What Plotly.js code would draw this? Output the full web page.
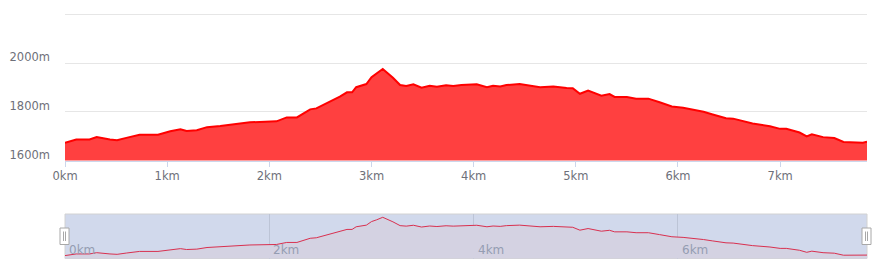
<!DOCTYPE html>
<html>
<head>
<meta charset="utf-8">
<script src="https://cdn.plot.ly/plotly-3.0.1.min.js"></script>
<style>html,body{margin:0;padding:0;background:#fff;}#chart{width:878px;height:266px;}</style>
</head>
<body>
<div id="chart"></div>
<script>
// distance along route (km)
const distanceKm = [0.00,0.11,0.24,0.31,0.44,0.51,0.60,0.73,0.91,1.03,1.13,1.19,1.29,1.39,1.52,1.65,1.81,2.07,2.17,2.27,2.40,2.46,2.59,2.69,2.76,2.81,2.85,2.95,3.00,3.05,3.11,3.21,3.28,3.34,3.41,3.49,3.57,3.64,3.73,3.80,3.88,4.03,4.13,4.19,4.26,4.32,4.45,4.65,4.78,4.91,4.97,5.04,5.12,5.25,5.33,5.38,5.50,5.59,5.71,5.82,5.94,6.05,6.15,6.25,6.34,6.47,6.54,6.64,6.73,6.90,7.00,7.06,7.19,7.26,7.31,7.42,7.53,7.62,7.81,7.85];
// elevation (m)
const elevationM = [1673,1686,1686,1696,1686,1683,1693,1706,1706,1720,1728,1721,1724,1737,1742,1749,1757,1761,1777,1777,1810,1814,1841,1862,1880,1880,1901,1914,1942,1956,1976,1940,1910,1906,1913,1899,1907,1903,1909,1906,1910,1913,1901,1907,1904,1910,1914,1901,1904,1898,1897,1874,1887,1866,1873,1861,1861,1854,1854,1839,1822,1817,1810,1800,1789,1774,1772,1760,1752,1741,1730,1730,1715,1699,1708,1696,1692,1676,1673,1677];
const yTickVals = [1600,1800,2000,2200];
const yTickText = ['1600m','1800m','2000m',''];
const xTickVals = [0,1,2,3,4,5,6,7];
const xTickText = ['0km','1km','2km','3km','4km','5km','6km','7km'];
const sliderTickVals = [0,2,4,6];
const sliderTickText = ['0km','2km','4km','6km'];

const H = 266;
const py = p => 1 - p / H;
const FONT = 'DejaVu Sans, sans-serif';

const traces = [
  {x: distanceKm, y: elevationM, type: 'scatter', mode: 'lines', xaxis: 'x', yaxis: 'y',
   line: {color: '#ff0000', width: 2, shape: 'linear'}, fill: 'tozeroy', fillcolor: 'rgba(255,64,64,1)', hoverinfo: 'x+y'},
  {x: distanceKm, y: elevationM, type: 'scatter', mode: 'lines', xaxis: 'x2', yaxis: 'y2',
   line: {color: '#d8304f', width: 1}, fill: 'tozeroy', fillcolor: 'rgba(212,210,226,1)', hoverinfo: 'skip'}
];

const sliderLabels = sliderTickVals.map((v, i) => ({
  x: v, xref: 'x2', y: 0, yref: 'y2 domain', text: sliderTickText[i], showarrow: false,
  xanchor: 'left', yanchor: 'middle', xshift: 2, yshift: 9,
  font: {family: FONT, size: 12, color: '#959db2'}
}));

const layout = {
  width: 878, height: 266,
  margin: {l: 65, r: 11, t: 0, b: 0},
  paper_bgcolor: '#ffffff', plot_bgcolor: 'rgba(0,0,0,0)',
  showlegend: false,
  font: {family: FONT, size: 11.5, color: '#6e7079'},
  xaxis: {
    domain: [0, 1], anchor: 'y', range: [0, 7.85], fixedrange: true,
    tickvals: xTickVals, ticktext: xTickText,
    showgrid: false, zeroline: false,
    showline: true, linecolor: '#ccd6eb', linewidth: 1,
    ticks: 'outside', ticklen: 5, tickcolor: '#ccd6eb', tickwidth: 1,
    tickfont: {family: FONT, size: 11.5, color: '#6e7079'}
  },
  yaxis: {
    domain: [py(160.5), py(12)], anchor: 'x', range: [1600, 2210], fixedrange: true,
    tickvals: yTickVals, ticktext: yTickText,
    showgrid: true, gridcolor: '#e6e6e6', gridwidth: 1, zeroline: false,
    showline: false, ticks: '', ticklabelstandoff: 14, ticklabelshift: -6,
    tickfont: {family: FONT, size: 11.5, color: '#6e7079'}
  },
  xaxis2: {
    domain: [0, 1], anchor: 'y2', range: [0, 7.85], fixedrange: true,
    tickvals: sliderTickVals,
    showgrid: true, gridcolor: '#bcc4d6', gridwidth: 1, zeroline: false,
    showline: false, ticks: '', showticklabels: false
  },
  yaxis2: {
    domain: [py(258.5), py(214)], anchor: 'x2', range: [1650, 2002], fixedrange: true,
    showgrid: false, zeroline: false, showline: false, showticklabels: false, ticks: ''
  },
  annotations: sliderLabels,
  shapes: [
    {type: 'rect', layer: 'below', xref: 'x2 domain', yref: 'y2 domain', x0: 0, x1: 1, y0: 0, y1: 1,
     fillcolor: '#d1d9ec', line: {color: '#d2d2d2', width: 1}},
    {type: 'rect', layer: 'above', xref: 'paper', yref: 'paper', x0: -5/802, x1: 4/802, y0: py(244.5), y1: py(228),
     fillcolor: '#ffffff', line: {color: '#a8a8a8', width: 1}},
    {type: 'line', layer: 'above', xref: 'paper', yref: 'paper', x0: -1.5/802, x1: -1.5/802, y0: py(241), y1: py(231.5),
     line: {color: '#a8a8a8', width: 1}},
    {type: 'line', layer: 'above', xref: 'paper', yref: 'paper', x0: 0.5/802, x1: 0.5/802, y0: py(241), y1: py(231.5),
     line: {color: '#a8a8a8', width: 1}},
    {type: 'rect', layer: 'above', xref: 'paper', yref: 'paper', x0: 797/802, x1: 806/802, y0: py(244.5), y1: py(228),
     fillcolor: '#ffffff', line: {color: '#a8a8a8', width: 1}},
    {type: 'line', layer: 'above', xref: 'paper', yref: 'paper', x0: 800.5/802, x1: 800.5/802, y0: py(241), y1: py(231.5),
     line: {color: '#a8a8a8', width: 1}},
    {type: 'line', layer: 'above', xref: 'paper', yref: 'paper', x0: 802.5/802, x1: 802.5/802, y0: py(241), y1: py(231.5),
     line: {color: '#a8a8a8', width: 1}}
  ]
};

Plotly.newPlot('chart', traces, layout, {displayModeBar: false, staticPlot: false, responsive: false});
</script>
</body>
</html>
